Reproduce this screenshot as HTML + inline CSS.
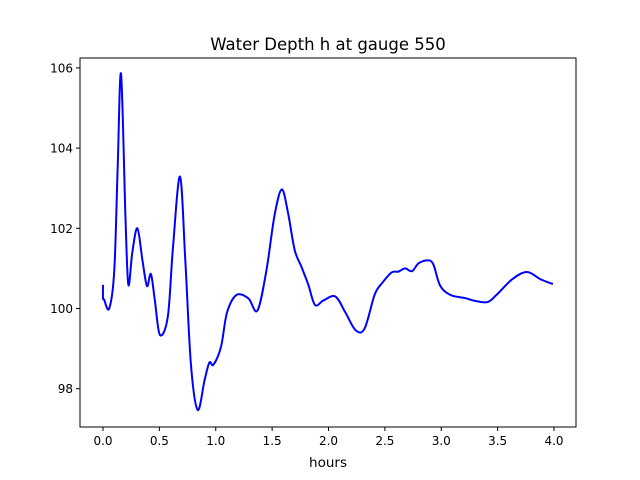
<!DOCTYPE html>
<html><head><meta charset="utf-8"><style>body{margin:0;background:#fff}svg{display:block;font-family:"DejaVu Sans","Liberation Sans",sans-serif}</style></head>
<body>
<svg id="c" width="640" height="480">
<rect x="0" y="0" width="640" height="480" fill="#fff"/>
<text x="328" y="50" text-anchor="middle" font-size="16.5">Water Depth h at gauge 550</text>
<text x="328" y="467" text-anchor="middle" font-size="13.5">hours</text>
<g id="plot"></g>
</svg>
<script>
const xs=[0,0,0.01,0.055,0.1,0.13,0.16,0.2,0.225,0.26,0.305,0.35,0.39,0.425,0.46,0.505,0.575,0.62,0.683,0.73,0.78,0.84,0.9,0.943,0.98,1.047,1.1,1.185,1.29,1.37,1.45,1.52,1.585,1.64,1.7,1.76,1.82,1.88,1.955,2.06,2.15,2.24,2.32,2.41,2.48,2.56,2.62,2.68,2.74,2.8,2.88,2.93,2.99,3.08,3.21,3.3,3.41,3.49,3.63,3.76,3.88,3.99];
const ys=[100.59,100.26,100.22,100.0,100.95,103.5,105.85,102.2,100.59,101.4,102.0,101.2,100.56,100.86,100.2,99.34,99.8,101.5,103.29,101.2,98.6,97.47,98.2,98.65,98.6,99.05,99.9,100.34,100.25,99.95,100.96,102.3,102.97,102.4,101.46,101.04,100.6,100.09,100.2,100.3,99.9,99.46,99.5,100.35,100.65,100.9,100.92,101.0,100.93,101.13,101.2,101.1,100.57,100.34,100.26,100.19,100.16,100.34,100.73,100.91,100.73,100.61];
const xTicks=[0,0.5,1,1.5,2,2.5,3,3.5,4];
const xTickLabels=["0.0","0.5","1.0","1.5","2.0","2.5","3.0","3.5","4.0"];
const yTicks=[98,100,102,104,106];
const yTickLabels=["98","100","102","104","106"];
const L=80,R=576,T=58,B=427;
const X=v=>103+v*112.75, Y=v=>308.5-(v-100)*40.1;
const g=document.getElementById('plot'),NS='http://www.w3.org/2000/svg';
function mk(t,a){const e=document.createElementNS(NS,t);for(const k in a)e.setAttribute(k,a[k]);g.appendChild(e);return e;}
const P=xs.map((x,i)=>[X(x),Y(ys[i])]);
let d='M'+P[0][0]+','+P[0][1];
for(let i=0;i<P.length-1;i++){const p0=P[Math.max(0,i-1)],p1=P[i],p2=P[i+1],p3=P[Math.min(P.length-1,i+2)];
d+=' C'+(p1[0]+(p2[0]-p0[0])/6)+','+(p1[1]+(p2[1]-p0[1])/6)+' '+(p2[0]-(p3[0]-p1[0])/6)+','+(p2[1]-(p3[1]-p1[1])/6)+' '+p2[0]+','+p2[1];}
const line=mk('path',{d:d,fill:'none',stroke:'#0000ff','stroke-width':2,'stroke-linejoin':'round'});


const fr=mk('rect',{x:L,y:T,width:R-L,height:B-T,fill:'none',stroke:'#000','stroke-width':1});


xTicks.forEach((v,i)=>{const x=X(v);
const t=mk('line',{x1:x,x2:x,y1:B,y2:B+4,stroke:'#000'});


const l=mk('text',{x:x,y:B+18,'text-anchor':'middle','font-size':12});l.textContent=xTickLabels[i];

});
yTicks.forEach((v,i)=>{const y=Y(v);
const t=mk('line',{x1:L-4,x2:L,y1:y,y2:y,stroke:'#000'});


const l=mk('text',{x:L-7,y:y+4.5,'text-anchor':'end','font-size':12});l.textContent=yTickLabels[i];

});
</script>
</body></html>
